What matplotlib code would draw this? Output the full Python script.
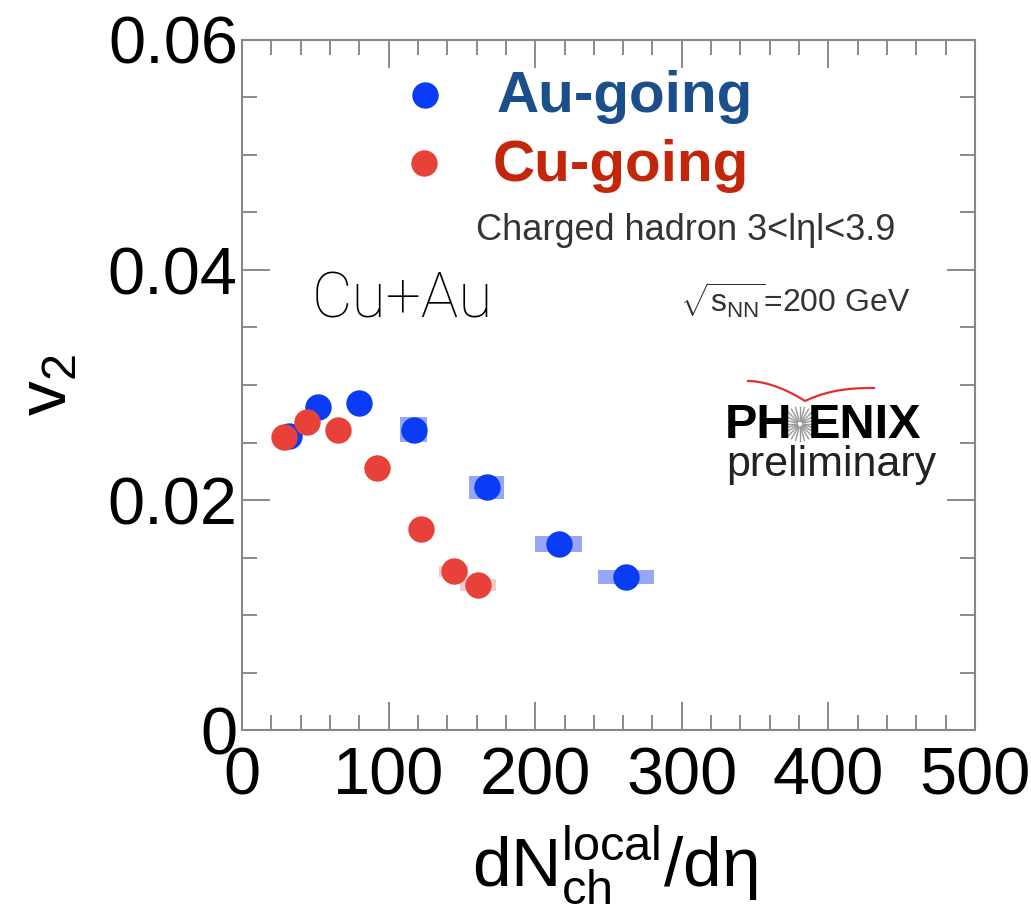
import matplotlib
matplotlib.use("Agg")
import matplotlib.pyplot as plt
from matplotlib.patches import Rectangle
from matplotlib.ticker import MultipleLocator
import numpy as np

plt.rcParams['font.family'] = ['Liberation Sans', 'DejaVu Sans']
plt.rcParams['mathtext.fontset'] = 'custom'
plt.rcParams['mathtext.rm'] = 'Liberation Sans'
plt.rcParams['mathtext.it'] = 'Liberation Sans'

# ---- data ----
au_x = [32, 52, 80, 117, 167, 216, 262]
au_y = [0.0256, 0.0281, 0.0284, 0.0261, 0.0211, 0.0162, 0.0133]
au_xsys = [3, 4, 6, 9, 12, 16, 19]
au_ysys = [0.0004, 0.0004, 0.0005, 0.0011, 0.0010, 0.0007, 0.0006]

cu_x = [28.5, 44.5, 65.5, 92, 122, 144.5, 161]
cu_y = [0.0255, 0.0268, 0.0261, 0.0228, 0.0175, 0.0138, 0.0126]
cu_xsys = [2, 3, 4, 5, 7, 10, 12]
cu_ysys = [0.0003, 0.0003, 0.0003, 0.0004, 0.0004, 0.0005, 0.0005]

W, H = 1031, 921
fig = plt.figure(figsize=(W / 100, H / 100), dpi=100)

def fx(px):
    return px / W

def fy(py):
    return 1 - py / H

ax = fig.add_axes([fx(242), fy(730), fx(975) - fx(242), fy(40) - fy(730)])
ax.set_xlim(0, 500)
ax.set_ylim(0, 0.06)

blue = '#0a3cf5'
red = '#e8413a'

for x, y, dx, dy in zip(au_x, au_y, au_xsys, au_ysys):
    ax.add_patch(Rectangle((x - dx, y - dy), 2 * dx, 2 * dy, color='#8c9ef7',
                           alpha=0.9, lw=0, zorder=2))
for x, y, dx, dy in zip(cu_x, cu_y, cu_xsys, cu_ysys):
    ax.add_patch(Rectangle((x - dx, y - dy), 2 * dx, 2 * dy, color='#f2a9a4',
                           alpha=0.6, lw=0, zorder=2))

ax.plot(au_x, au_y, 'o', color=blue, ms=19, mec='none', zorder=3)
ax.plot(cu_x, cu_y, 'o', color=red, ms=19, mec='none', zorder=4)

ax.xaxis.set_major_locator(MultipleLocator(100))
ax.xaxis.set_minor_locator(MultipleLocator(20))
ax.yaxis.set_major_locator(MultipleLocator(0.02))
ax.yaxis.set_minor_locator(MultipleLocator(0.005))

def yfmt(v, pos):
    return '0' if abs(v) < 1e-12 else f'{v:.2f}'
ax.yaxis.set_major_formatter(plt.FuncFormatter(yfmt))

ax.tick_params(which='both', direction='in', top=True, right=True, color='#777777', width=1.2)
ax.tick_params(which='major', length=20)
ax.tick_params(which='minor', length=11)
ax.tick_params(axis='y', labelsize=48, pad=3)
ax.tick_params(axis='x', labelsize=48, pad=12)
for s in ax.spines.values():
    s.set_color('#888888')
    s.set_linewidth(1.5)

fig.text(fx(615), fy(865), r'$\mathregular{dN_{ch}^{local}/d\eta}$', fontsize=50,
         ha='center', va='center')
fig.text(fx(48), fy(385), r'$\mathregular{v_2}$', fontsize=50, rotation=90,
         ha='center', va='center')

# legend
ax.plot([fx(425)], [fy(95)], 'o', color=blue, ms=19, mec='none',
        transform=fig.transFigure, clip_on=False)
ax.plot([fx(424)], [fy(163)], 'o', color=red, ms=19, mec='none',
        transform=fig.transFigure, clip_on=False)
fig.text(fx(497), fy(97), 'Au-going', fontsize=42, fontweight='bold', color='#1b4f8c',
         ha='left', va='center')
fig.text(fx(493), fy(166), 'Cu-going', fontsize=42, fontweight='bold', color='#c4260c',
         ha='left', va='center')

fig.text(fx(686), fy(230), 'Charged hadron 3<lηl<3.9', fontsize=26, color='#333333',
         ha='center', va='center')
fig.text(fx(312), fy(300), 'Cu+Au', fontsize=45, family='Roboto', fontweight='light',
         ha='left', va='center')
fig.text(fx(910), fy(300), r'$\sqrt{s_{\mathregular{NN}}}$=200 GeV', fontsize=23,
         color='#333333', ha='right', va='center')

# PHENIX logo
fig.text(fx(792), fy(425), 'PH', fontsize=35, fontweight='bold', ha='right', va='center')
fig.text(fx(808), fy(425), 'ENIX', fontsize=35, fontweight='bold', ha='left', va='center')
cx, cy, r = 800, 424, 17
for a in np.linspace(0, 2 * np.pi, 24, endpoint=False):
    fig.add_artist(plt.Line2D([fx(cx + 3 * np.cos(a)), fx(cx + r * np.cos(a))],
                              [fy(cy + 3 * np.sin(a)), fy(cy + r * np.sin(a))],
                              color='#999999', lw=1.0))
t = np.linspace(0, 1, 30)
lx = 748 + (805 - 748) * t
ly = 381 + (401 - 381) * t ** 1.8
rx = 805 + (874 - 805) * t
ry = 401 - (401 - 388) * (1 - (1 - t) ** 2.5)
fig.add_artist(plt.Line2D(fx(np.concatenate([lx, rx])), fy(np.concatenate([ly, ry])),
                          color='#e03030', lw=1.6))
fig.text(fx(831), fy(465), 'preliminary', fontsize=31, color='#222222',
         ha='center', va='center')

fig.savefig('out.png', dpi=100)
